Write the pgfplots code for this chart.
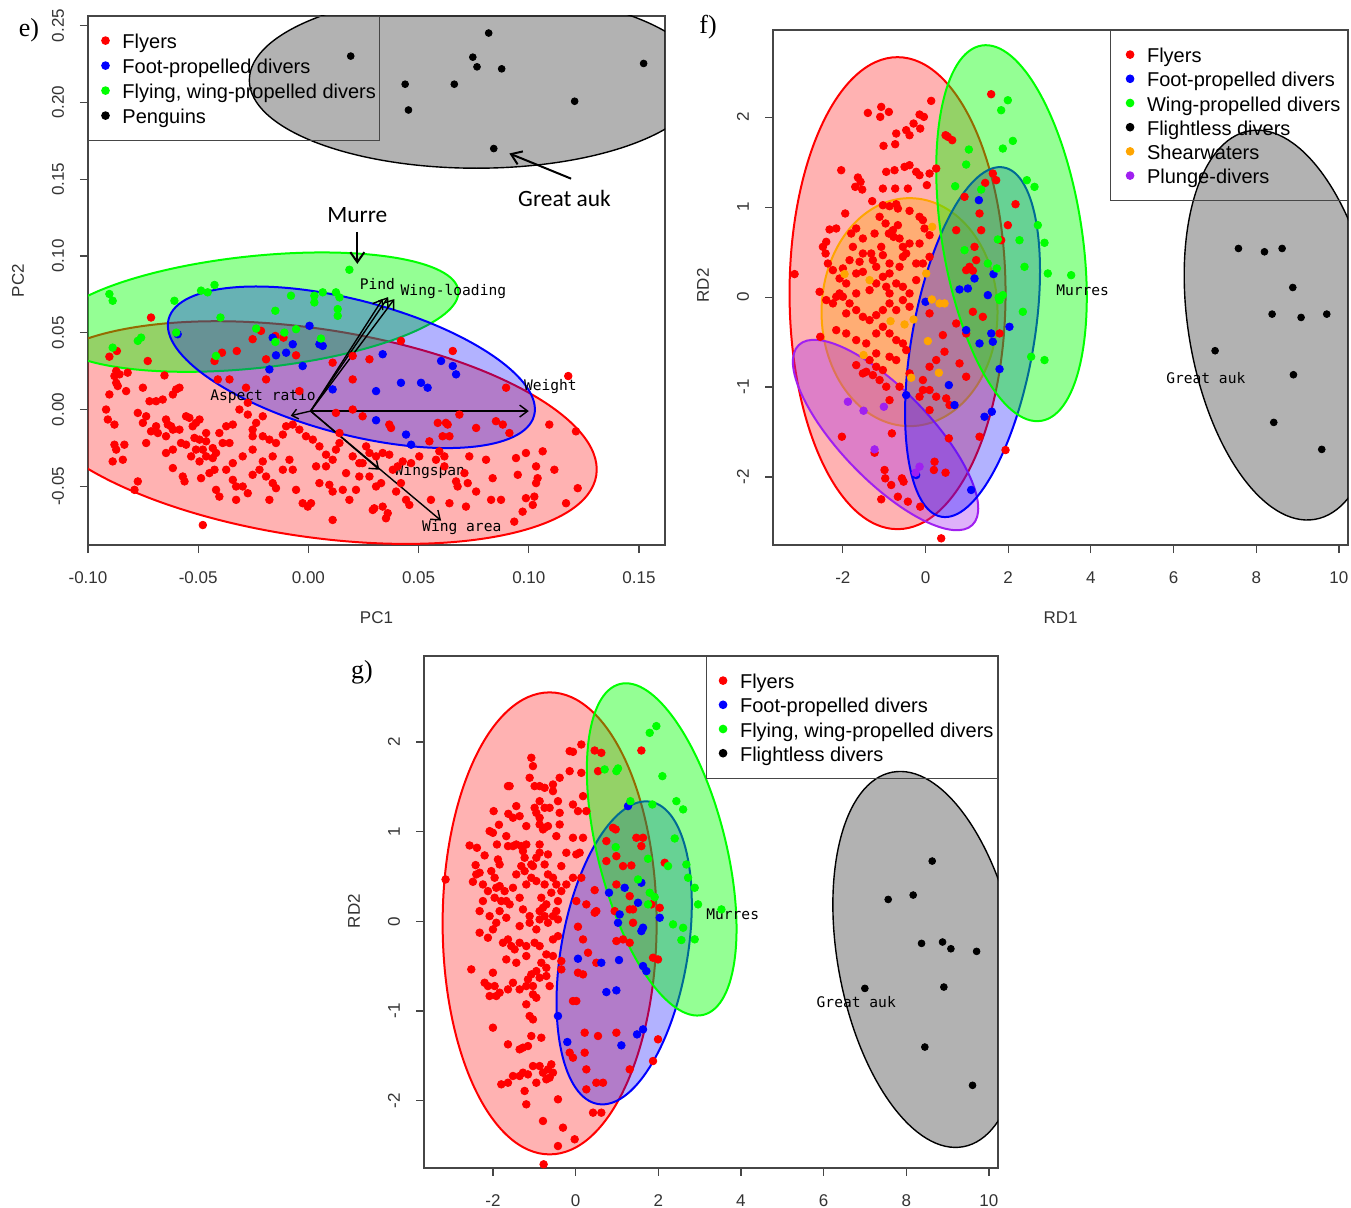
\documentclass[border=0pt]{standalone}
\usepackage{fontspec}
\setmainfont{Liberation Sans}
\newfontfamily\calib{Carlito}
\newfontfamily\monof{DejaVu Sans Mono}
\newfontfamily\serifp{Liberation Serif}
\usepackage{pgfplots}
\pgfplotsset{compat=1.18}
\usetikzlibrary{arrows.meta}
\definecolor{Rgreen}{RGB}{0,255,0}
\definecolor{Rorange}{RGB}{255,165,0}
\definecolor{Rpurple}{RGB}{160,32,240}
\definecolor{axgray}{RGB}{70,70,70}
\pgfplotsset{
  Rax/.style={
    scale only axis, anchor=north west, clip=true,
    axis line style={draw=axgray, line width=0.6pt},
    tick align=outside, xtick pos=bottom, ytick pos=left,
    major tick length=4pt,
    tick style={draw=axgray, line width=0.6pt},
    tick label style={font=\fontsize{8.5}{10}\selectfont, text=black!80},
    xticklabel style={anchor=center, yshift=-12.5pt},
    yticklabel style={anchor=center, xshift=-11pt, rotate=90},
    every axis x label/.style={at={(axis description cs:0.5,0)}, anchor=center, yshift=-36.5pt, font=\fontsize{8.5}{10}\selectfont, text=black!80},
    every axis y label/.style={at={(axis description cs:0,0.5)}, anchor=center, xshift=-35pt, rotate=90, font=\fontsize{8.5}{10}\selectfont, text=black!80},
    legend cell align=left,
    legend image code/.code={\fill[##1] (6.5pt,0.2pt) circle (1.9pt); \path[draw=none,fill=none] (0pt,0pt) -- (15pt,0pt);},
    legend style={draw=axgray, line width=0.5pt, fill=none, font=\fontsize{10}{12}\selectfont, inner xsep=2pt, inner ysep=6.5pt, row sep=0.6pt, nodes={inner sep=0pt, text height=9.6pt, text depth=1.9pt}},
  },
  pts/.style={only marks, mark=*, mark size=1.9pt},
}
\newcommand\Rell[7]{\filldraw[draw=#1, fill=#1, fill opacity=#7, line width=1pt, rotate around={#6:(axis cs:#2,#3)}] (axis cs:#2,#3) ellipse [x radius=#4pt, y radius=#5pt];}
\newcommand\Gell[6]{\filldraw[draw=black, fill=black, fill opacity=0.3, line width=0.7pt, rotate around={#5:(axis cs:#1,#2)}] (axis cs:#1,#2) ellipse [x radius=#3pt, y radius=#4pt];}
\begin{document}
\begin{tikzpicture}
\path[use as bounding box] (0,0) rectangle (675.5pt,-604pt);
\node[font=\serifp\fontsize{13}{14}\selectfont] at (14.5pt,-15pt) {e)};
\node[font=\serifp\fontsize{13}{14}\selectfont] at (354pt,-13.5pt) {f)};
\node[font=\serifp\fontsize{13}{14}\selectfont] at (181pt,-336pt) {g)};

% ---------------- panel e ----------------
\begin{axis}[Rax, at={(44pt,-8pt)}, width=288.5pt, height=264.5pt,
  xmin=-0.1, xmax=0.1618, ymin=-0.0882, ymax=0.2562,
  xtick={-0.1,-0.05,0,0.05,0.1,0.15}, xticklabels={-0.10,-0.05,0.00,0.05,0.10,0.15},
  ytick={-0.05,0,0.05,0.1,0.15,0.2,0.25}, yticklabels={-0.05,0.00,0.05,0.10,0.15,0.20,0.25},
  xlabel={PC1}, ylabel={PC2},
  legend style={at={(0,1)}, anchor=north west, row sep=1pt}]
\addplot[red, pts] coordinates {
(-0.0903,0.0344)(-0.0869,0.0381)(-0.0714,0.0599)(-0.0729,0.0316)(-0.0426,0.0316)(-0.0392,0.0370)(-0.0325,0.0381)(-0.0253,0.0458)(-0.0215,0.0512)(-0.0192,0.0327)(-0.0150,0.0479)(-0.0113,0.0468)(-0.0056,0.0353)(-0.0872,0.0251)(-0.0880,0.0218)(-0.0857,0.0229)(-0.0820,0.0240)(-0.0872,0.0174)(-0.0865,0.0153)(-0.0903,0.0098)(-0.0918,0.0)(-0.0910,-0.0065)(-0.0880,-0.0098)(-0.0827,0.0120)(-0.0751,0.0142)(-0.0774,-0.0022)(-0.0736,-0.0044)(-0.0721,0.0054)(-0.0691,0.0054)(-0.0661,0.0065)(-0.0653,0.0222)(-0.0615,0.0098)(-0.0600,0.0131)(-0.0585,0.0142)(-0.0691,-0.0109)(-0.0683,-0.0153)(-0.0646,-0.0065)(-0.0638,-0.0098)(-0.0623,-0.0109)(-0.0615,-0.0131)(-0.0585,-0.0131)(-0.0578,-0.0218)(-0.0555,-0.0229)(-0.0540,-0.0054)(-0.0510,-0.0087)(-0.0494,-0.0065)(-0.0517,-0.0185)(-0.0494,-0.0196)(-0.0464,-0.0207)(-0.0434,-0.0251)(-0.0419,-0.0283)(-0.0389,-0.0218)(-0.0358,-0.0218)(-0.0343,-0.0098)(-0.0313,0.0)(-0.0275,-0.0033)(-0.0275,0.0044)(-0.0253,-0.0131)(-0.0237,-0.0087)(-0.0207,-0.0044)(-0.0207,-0.0174)(-0.0177,-0.0196)(-0.0147,-0.0218)(-0.0116,-0.0163)(-0.0101,-0.0109)(-0.0071,-0.0098)(-0.0041,-0.0131)(-0.0011,-0.0174)(0.0020,-0.0196)(0.0050,-0.0240)(0.0080,-0.0294)(0.0110,-0.0327)(-0.0880,-0.0229)(-0.0835,-0.0229)(-0.0872,-0.0261)(-0.0842,-0.0327)(-0.0888,-0.0338)(-0.0774,-0.0468)(-0.0789,-0.0523)(-0.0736,-0.0218)(-0.0646,-0.0283)(-0.0615,-0.0381)(-0.0570,-0.0436)(-0.0562,-0.0468)(-0.0532,-0.0305)(-0.0494,-0.0338)(-0.0479,-0.0261)(-0.0449,-0.0414)(-0.0426,-0.0392)(-0.0487,-0.0447)(-0.0419,-0.0523)(-0.0404,-0.0567)(-0.0343,-0.0458)(-0.0328,-0.0501)(-0.0298,-0.0501)(-0.0328,-0.0588)(-0.0275,-0.0545)(-0.0253,-0.0425)(-0.0222,-0.0392)(-0.0192,-0.0436)(-0.0162,-0.0479)(-0.0147,-0.0512)(-0.0177,-0.0588)(-0.0116,-0.0392)(-0.0086,-0.0327)(-0.0071,-0.0392)(-0.0056,-0.0523)(-0.0026,-0.0610)(-0.0003,-0.0632)(0.0012,-0.0610)(0.0050,-0.0479)(0.0095,-0.0490)(0.0110,-0.0534)(0.0110,-0.0719)(0.0156,-0.0523)(0.0186,-0.0588)(0.0216,-0.0523)(0.0231,-0.0436)(0.0277,-0.0283)(0.0292,-0.0654)(0.0307,-0.0501)(-0.0479,-0.0752)(-0.0464,-0.0305)(-0.0434,-0.0316)(-0.0373,-0.0392)(-0.0343,-0.0349)(-0.0615,-0.0261)(-0.0646,-0.0174)(-0.0714,-0.0142)(-0.0751,-0.0087)(-0.0555,-0.0044)(-0.0525,-0.0109)(-0.0464,-0.0153)(-0.0404,-0.0153)(-0.0373,-0.0109)(-0.0510,-0.0261)(-0.0298,-0.0305)(-0.0253,-0.0261)(-0.0207,-0.0338)(-0.0162,-0.0305)(-0.0253,-0.0174)(0.0201,-0.0305)(0.0246,-0.0349)(0.0262,-0.0240)(0.0125,-0.0261)(0.0141,-0.0218)(0.0080,-0.0370)(0.0035,-0.0370)(0.0171,-0.0414)(0.0231,-0.0349)
(-0.0411,0.0196)(-0.0358,0.0196)(-0.0283,0.0142)(-0.0192,0.0196)(-0.0041,0.0120)(0.0125,-0.0022)(0.0201,0.0)(0.0246,-0.0044)(0.0141,-0.0153)(0.0201,0.0196)(0.0110,0.0305)(0.0201,0.0349)
(0.1179,0.0218)(0.1093,-0.0098)(0.1214,-0.0142)(0.1063,-0.0272)(0.1116,-0.0392)(0.1033,-0.0370)(0.0987,-0.0283)(0.0942,-0.0316)(0.0950,-0.0425)(0.0806,-0.0327)(0.0836,-0.0447)(0.0730,-0.0305)(0.0708,-0.0414)(0.0670,-0.0468)(0.0677,-0.0501)(0.0723,-0.0479)(0.0761,-0.0534)(0.0715,-0.0632)(0.0829,-0.0588)(0.0874,-0.0588)(0.0987,-0.0577)(0.1025,-0.0567)(0.1018,-0.0621)(0.1040,-0.0447)(0.1033,-0.0479)(0.1169,-0.0610)(0.1222,-0.0512)(0.0934,-0.0730)(0.0972,-0.0665)(0.0594,-0.0272)(0.0617,-0.0305)(0.0617,-0.0370)(0.0579,-0.0327)(0.0503,-0.0305)(0.0466,-0.0349)(0.0428,-0.0338)(0.0405,-0.0370)(0.0367,-0.0294)(0.0337,-0.0283)(0.0383,-0.0392)(0.0420,-0.0479)(0.0398,-0.0534)(0.0443,-0.0588)(0.0458,-0.0621)(0.0556,-0.0588)(0.0640,-0.0610)(0.0299,-0.0643)(0.0337,-0.0632)(0.0360,-0.0675)(0.0352,-0.0708)(0.0330,-0.0479)(0.0307,-0.0305)(0.0277,-0.0436)
(0.0655,0.0381)(0.0897,0.0142)(0.0882,-0.0098)(0.0851,-0.0076)(0.0761,-0.0120)(0.0685,-0.0033)(0.0624,-0.0087)(0.0632,-0.0098)(0.0640,-0.0174)(0.0609,-0.0174)(0.0587,-0.0087)(0.0549,-0.0207)(0.0367,-0.0098)(0.0375,-0.0120)(0.0420,0.0447)(0.0277,0.0327)(0.0912,-0.0153)
};
\addlegendentry{Flyers}
\addplot[blue, pts] coordinates {
(-0.0593,0.0490)(-0.0162,0.0468)(-0.0147,0.0353)(-0.0101,0.0370)(-0.0071,0.0425)(0.0005,0.0545)(0.0050,0.0425)(-0.0177,0.0261)(-0.0026,0.0283)(0.0110,0.0131)(0.0307,0.0120)(0.0307,-0.0070)(0.0065,0.0414)(0.0337,0.0360)(0.0602,0.0316)(0.0655,0.0283)(0.0670,0.0229)(0.0420,0.0174)(0.0511,0.0174)(0.0541,0.0142)(0.0443,-0.0163)(0.0466,-0.0229)
};
\addlegendentry{Foot-propelled divers}
\addplot[Rgreen, pts] coordinates {
(-0.0903,0.0752)(-0.0888,0.0708)(-0.0608,0.0708)(-0.0487,0.0774)(-0.0457,0.0763)(-0.0426,0.0811)(-0.0399,0.0599)(-0.0600,0.0501)(-0.0888,0.0403)(-0.0774,0.0447)(-0.0759,0.0468)(-0.0419,0.0349)(-0.0237,0.0527)(-0.0150,0.0643)(-0.0109,0.0501)(-0.0150,0.0440)(-0.0056,0.0523)(-0.0079,0.0741)(0.0027,0.0741)(0.0027,0.0697)(0.0065,0.0763)(0.0125,0.0763)(0.0141,0.0730)(0.0133,0.0654)(0.0133,0.0610)(0.0057,0.0462)(0.0186,0.0910)
};
\addlegendentry{Flying, wing-propelled divers}
\addplot[black, pts, mark size=1.7pt] coordinates {
(0.0818,0.2451)(0.0746,0.2294)(0.0765,0.2231)(0.0877,0.2218)(0.0439,0.2118)(0.0662,0.2118)(0.0454,0.1950)(0.1208,0.2007)(0.1521,0.2253)(0.0841,0.1699)(0.0192,0.2301)
};
\addlegendentry{Penguins}
\Rell{red}{0.0014}{-0.0150}{144}{52}{-8.5}{0.3}
\Rell{Rgreen}{-0.0245}{0.0634}{102.5}{28}{6}{0.42}
\Rell{blue}{0.0195}{0.0275}{94.5}{33.5}{-14.8}{0.3}
\Gell{0.0762}{0.2144}{113.5}{44}{0}{}
% biplot arrows
\draw[black, line width=0.7pt, -{Straight Barb[length=4pt,width=6pt]}] (axis cs:0.001,-0.001) -- (axis cs:0.100,-0.001);
\draw[black, line width=0.7pt, -{Straight Barb[length=4pt,width=6pt]}] (axis cs:0.001,-0.001) -- (axis cs:0.0337,0.0719);
\draw[black, line width=0.7pt, -{Straight Barb[length=4pt,width=6pt]}] (axis cs:0.001,-0.001) -- (axis cs:0.0362,0.0732);
\draw[black, line width=0.7pt, -{Straight Barb[length=4pt,width=6pt]}] (axis cs:0.001,-0.001) -- (axis cs:0.0390,0.0719);
\draw[black, line width=0.7pt, -{Straight Barb[length=3pt,width=5pt]}] (axis cs:0.001,-0.001) -- (axis cs:-0.008,-0.0040);
\draw[black, line width=0.7pt, -{Straight Barb[length=4pt,width=6pt]}] (axis cs:0.001,-0.001) -- (axis cs:0.0322,-0.0392);
\draw[black, line width=0.7pt, -{Straight Barb[length=4pt,width=6pt]}] (axis cs:0.001,-0.001) -- (axis cs:0.0602,-0.0723);
\node[font=\monof\fontsize{7.3}{8}\selectfont] at (axis cs:0.0313,0.0817) {Pind};
\node[font=\monof\fontsize{7.3}{8}\selectfont] at (axis cs:0.0658,0.0767) {Wing-loading};
\node[font=\monof\fontsize{7.3}{8}\selectfont] at (axis cs:0.1098,0.0150) {Weight};
\node[font=\monof\fontsize{7.3}{8}\selectfont] at (axis cs:-0.0206,0.0087) {Aspect ratio};
\node[font=\monof\fontsize{7.3}{8}\selectfont] at (axis cs:0.0551,-0.0405) {Wingspan};
\node[font=\monof\fontsize{7.3}{8}\selectfont] at (axis cs:0.0696,-0.0771) {Wing area};
\node[font=\calib\fontsize{11.7}{13}\selectfont] at (axis cs:0.0222,0.1268) {Murre};
\draw[black, line width=1pt, -{Straight Barb[length=5pt,width=7pt]}] (axis cs:0.0222,0.1157) -- (axis cs:0.0222,0.0948);
\node[font=\calib\fontsize{11.7}{13}\selectfont] at (axis cs:0.1162,0.1373) {Great auk};
\draw[black, line width=1pt, -{Straight Barb[length=5pt,width=7pt]}] (axis cs:0.1192,0.1503) -- (axis cs:0.0912,0.1667);
\end{axis}

% ---------------- panel f ----------------
\begin{axis}[Rax, at={(386.5pt,-15pt)}, width=287.5pt, height=257.5pt,
  xmin=-3.69, xmax=10.22, ymin=-2.756, ymax=2.97,
  xtick={-2,0,2,4,6,8,10}, xticklabels={-2,0,2,4,6,8,10},
  ytick={-2,-1,0,1,2}, yticklabels={-2,-1,0,1,2},
  xlabel={RD1}, ylabel={RD2},
  every axis y label/.append style={xshift=1pt},
  legend style={at={(1,1)}, anchor=north east, inner xsep=3.5pt}]
\addplot[red, pts] coordinates {
(-1.395,2.048)(-1.072,2.115)(-1.096,2.004)(-0.887,2.059)(-0.145,2.030)(-0.040,2.004)(0.137,2.182)(-0.290,1.930)(-0.709,1.819)(-0.468,1.856)(-0.387,1.800)(-0.129,1.874)(-1.016,1.682)(-0.734,1.700)(-0.951,1.393)(-0.750,1.411)(-0.508,1.448)(-0.387,1.467)(-0.145,1.356)(-0.226,1.393)(0.097,1.374)(0.258,1.430)(0.032,1.245)(0.484,1.800)(0.540,1.782)(0.645,1.745)(-2.040,1.411)(-1.636,1.330)(-1.572,1.282)(-1.701,1.226)(-1.532,1.196)(-1.290,1.067)(-1.032,1.207)(-0.734,1.207)(-0.427,1.207)(-1.943,0.930)(-2.322,0.752)(-2.160,0.763)(-2.402,0.615)(-2.483,0.559)(-2.418,0.485)(-2.362,0.374)(-2.563,0.059)(-3.168,0.256)(1.628,1.374)(1.709,1.300)(1.443,1.270)(1.588,2.256)(2.177,1.033)(1.991,0.800)(1.346,0.744)(1.306,0.930)(0.943,1.115)(0.742,0.744)(1.185,0.559)(1.064,0.337)(0.983,0.300)(1.145,0.293)(1.225,0.411)(1.830,0.633)
(-1.032,1.022)(-0.871,1.011)(-0.709,1.033)(-0.669,0.985)(-0.387,0.959)(-0.145,0.893)(-0.064,0.856)(-0.024,0.763)(0.097,0.689)(-1.112,0.893)(-0.967,0.819)(-0.669,0.800)(-0.790,0.744)(-0.887,0.707)(-0.774,0.670)(-0.629,0.652)(-0.548,0.559)(-0.387,0.596)(-0.145,0.596)(-1.233,0.707)(-1.516,0.652)(-1.677,0.763)(-1.798,0.707)(-1.757,0.559)(-1.516,0.485)(-1.314,0.485)(-1.072,0.559)(-1.032,0.467)(-1.274,0.411)(-1.596,0.393)(-1.838,0.411)(-1.999,0.319)(-2.241,0.300)(-2.080,0.207)(-1.919,0.152)(-1.677,0.263)(-1.516,0.281)(-1.193,0.337)(-0.871,0.374)(-0.629,0.337)(-0.548,0.448)(-0.468,0.485)(-0.226,0.374)(-0.064,0.374)(0.097,0.448)(-0.871,0.263)(-1.032,0.226)(-1.193,0.152)(-1.354,0.078)(-0.951,0.115)(-0.709,0.152)(-0.548,0.115)(-0.387,0.041)(-0.226,0.189)(-0.871,0.041)(-1.677,0.041)(-2.080,0.041)(-2.160,0.004)
(-2.402,-0.033)(-2.241,-0.070)(-1.999,0.004)(-1.838,-0.070)(-1.677,-0.144)(-1.919,-0.181)(-1.516,-0.219)(-1.354,-0.256)(-1.193,-0.200)(-1.032,-0.144)(-0.871,-0.070)(-0.709,-0.144)(-0.548,-0.033)(-0.387,-0.107)(-2.160,-0.367)(-1.919,-0.404)(-1.677,-0.478)(-1.435,-0.515)(-1.193,-0.404)(-1.032,-0.330)(-0.871,-0.404)(-0.709,-0.478)(-0.548,-0.515)(-0.468,-0.589)(-1.193,-0.626)(-1.354,-0.700)(-1.193,-0.774)(-1.032,-0.811)(-0.871,-0.663)(-0.709,-0.700)(-1.677,-0.756)(-1.516,-0.848)(-1.274,-0.867)(-1.112,-0.922)(-0.951,-0.996)(-0.629,-0.996)(-0.387,-0.848)(-0.064,-0.922)(0.097,-0.774)(0.258,-0.700)(0.459,-0.607)(-0.064,-1.033)(-0.145,-1.107)(0.097,-1.033)(0.258,-1.107)(0.500,-1.126)(0.580,-1.200)(0.419,-0.422)(0.983,-0.404)(1.790,-0.404)(1.145,-0.163)(1.386,-0.219)(0.097,-0.181)(0.742,-0.293)(0.822,-0.737)(0.983,-0.885)(1.306,-1.552)(-2.547,-0.441)(-0.814,-1.515)(-2.023,-1.552)(-1.233,-1.730)(-0.992,-1.922)(-0.975,-2.015)(-0.830,-2.089)(-0.572,-2.015)(-0.532,-2.052)(-0.669,-2.219)(-0.427,-2.274)(-0.129,-2.330)(-1.072,-2.248)(0.218,-1.830)(0.202,-1.922)(0.484,-1.952)(0.564,-1.570)(1.935,-1.700)(0.097,-1.256)(-0.871,-1.145)(-1.435,-0.830)(0.379,-2.682)
};
\addlegendentry{Flyers}
\addplot[blue, pts] coordinates {
(1.29,1.078)(1.644,0.256)(1.185,0.207)(1.024,0.096)(0.822,0.085)(1.507,0.022)(0,-0.052)(2.03,-0.33)(0.983,-0.367)(1.306,-0.515)(1.628,-0.496)(1.59,-0.404)(1.79,-0.8)(0.564,-0.978)(0.701,-1.2)(1.427,-1.33)(1.604,-1.274)(1.104,-2.144)(-0.226,-1.978)(-0.468,-1.089)
};
\addlegendentry{Foot-propelled divers}
\addplot[Rgreen, pts] coordinates {
(1.991,2.189)(1.830,2.078)(2.112,1.737)(1.870,1.652)(1.048,1.641)(0.983,1.474)(0.717,1.233)(1.346,1.196)(2.451,1.30)(2.636,1.226)(2.717,0.80)(2.878,0.604)(2.394,0.337)(2.958,0.263)(3.523,0.244)(2.273,0.633)(1.749,0.641)(1.725,0.319)(1.507,0.374)(0.943,0.522)(1.87,0.022)(1.77,-0.004)(2.354,-0.163)(1.79,-0.033)(2.555,-0.663)(2.878,-0.70)
};
\addlegendentry{Wing-propelled divers}
\addplot[black, pts, mark size=1.7pt] coordinates {
(7.57,0.541)(8.199,0.504)(8.626,0.541)(8.884,0.107)(8.384,-0.189)(9.085,-0.226)(9.706,-0.189)(7.005,-0.596)(8.90,-0.863)(8.424,-1.393)(9.585,-1.693)
};
\addlegendentry{Flightless divers}
\addplot[Rorange, pts] coordinates {
(-1.959,0.256)(-1.354,0.189)(0.161,0.781)(0.016,0.263)(0.153,-0.026)(0.339,-0.07)(0.46,-0.07)(-0.846,-0.267)(-0.508,-0.304)(-0.29,-0.248)(-1.5,-0.644)(0.056,-0.489)(0.322,-0.841)(-0.347,-0.896)
};
\addlegendentry{Shearwaters}
\addplot[Rpurple, pts] coordinates {
(-1.878,-1.163)(-1.5,-1.263)(-1.008,-1.219)(-1.233,-1.693)(-0.145,-1.885)(-0.242,-1.952)
};
\addlegendentry{Plunge-divers}
\Rell{red}{-0.677}{0.044}{54}{118}{0}{0.3}
\Rell{Rorange}{-0.387}{-0.167}{44}{57}{0}{0.35}
\Rell{Rpurple}{-0.967}{-1.533}{62.5}{22.5}{-46}{0.35}
\Rell{blue}{1.137}{-0.5}{30.4}{88.7}{-10.1}{0.3}
\Rell{Rgreen}{2.08}{0.711}{35}{95}{9}{0.42}
\Gell{8.63}{-0.311}{46.9}{98.5}{9.5}{}
\node[font=\monof\fontsize{7.3}{8}\selectfont] at (axis cs:3.80,0.078) {Murres};
\node[font=\monof\fontsize{7.3}{8}\selectfont] at (axis cs:6.78,-0.903) {Great auk};
\end{axis}

% ---------------- panel g ----------------
\begin{axis}[Rax, at={(212pt,-328pt)}, width=287pt, height=256pt,
  xmin=-3.67, xmax=10.22, ymin=-2.75, ymax=2.96,
  xtick={-2,0,2,4,6,8,10}, xticklabels={-2,0,2,4,6,8,10},
  ytick={-2,-1,0,1,2}, yticklabels={-2,-1,0,1,2},
  ylabel={RD2},
  every axis y label/.append style={xshift=0.5pt},
  legend style={at={(1,1)}, anchor=north east}]
\addplot[red, pts] coordinates {
(-3.148,0.468)(-2.567,0.847)(-2.389,0.821)(-2.203,0.736)(-2.421,0.628)(-2.405,0.524)(-2.324,0.543)(-2.486,0.442)(-2.042,0.561)(-1.985,1.230)(-1.856,1.078)(-1.630,1.200)(-1.598,1.509)(-1.437,1.286)(-1.356,1.174)(-2.082,1.007)(-2.002,0.988)(-1.905,0.858)(-1.679,0.951)(-1.638,0.840)(-1.517,0.840)(-1.437,0.858)(-1.316,0.840)(-1.275,0.784)(-1.235,0.710)(-1.195,0.858)(-1.881,0.691)(-1.840,0.635)(-1.961,0.487)(-1.921,0.375)(-1.840,0.394)(-1.719,0.338)(-1.679,0.227)(-1.598,0.190)(-1.517,0.375)(-1.356,0.264)(-1.195,0.412)(-1.073,0.635)(-1.033,0.617)(-0.952,0.710)(-0.872,0.858)(-0.751,0.635)(-0.670,0.524)(-0.589,0.320)(-0.428,0.227)(-0.347,0.338)(-0.347,0.617)(-0.226,0.412)(-0.065,0.487)(0.016,0.747)(0.097,0.766)(-0.226,0.766)(0.178,0.933)(-0.065,0.933)(-0.387,1.081)(-0.468,0.951)(-0.751,1.044)(-0.872,1.156)(-0.952,1.211)(-0.993,1.267)(-0.872,1.341)(-0.751,1.267)(-0.630,1.267)(-0.549,1.527)(-0.387,1.602)(-0.145,1.676)(0.137,1.657)(-0.145,1.899)(-0.065,1.891)(0.137,1.973)(-0.549,1.453)(-0.428,1.341)(-0.387,1.211)(-0.065,1.304)(0.056,1.230)(0.258,1.230)(0.178,1.397)(-1.073,1.825)(-1.033,1.732)(-1.114,1.602)(-0.993,1.509)(-0.872,1.509)(-0.751,1.490)(-0.872,1.081)(-0.791,1.026)(-0.670,1.063)(-1.638,1.509)(-1.517,1.156)(-1.195,1.063)(-0.872,0.766)(-0.670,0.747)(-1.316,0.617)(-1.235,0.561)(-1.437,0.524)(-2.244,0.412)(-2.123,0.338)(-1.800,0.227)(-1.961,0.264)(-2.244,0.227)(-2.324,0.115)(-1.840,0.115)(-1.679,0.041)(-1.275,0.134)(-1.114,0.059)(-0.872,0.115)(-0.791,0.152)(-0.710,0.190)(-0.468,0.115)(-0.831,0.264)(-0.952,0.450)(-1.073,0.487)(-0.549,0.487)(-0.468,0.412)(-0.751,0.412)
(0.460,1.906)(0.621,1.880)(0.541,1.676)(1.590,1.906)(0.969,1.026)(1.469,0.933)(1.590,0.840)(1.630,0.933)(0.743,0.896)(0.985,0.728)(0.743,0.673)(1.146,0.617)(1.348,0.624)(0.985,0.412)(1.308,0.282)(1.388,0.134)(1.832,0.190)(2.034,0.152)(2.155,0.654)(0.904,1.044)
(0.137,0.487)(0.460,0.349)(0.016,0.227)(0.258,0.190)(0.500,0.115)(0.944,0.115)
(-2.526,-0.535)(-2.324,-0.126)(-2.123,-0.182)(-2.002,-0.572)(-2.203,-0.684)(-2.123,-0.721)(-1.961,-0.721)(-2.082,-0.832)(-1.921,-0.832)(-1.840,-0.795)(-2.002,-1.185)(-1.638,-0.758)(-1.759,-0.238)(-1.638,-0.201)(-1.558,-0.275)(-1.477,-0.312)(-1.356,-0.238)(-1.195,-0.275)(-0.993,-0.238)(-0.872,-0.275)(-0.710,-0.368)(-0.549,-0.386)(-0.831,-0.461)(-0.710,-0.517)(-0.952,-0.554)(-1.073,-0.591)(-1.154,-0.647)(-1.517,-0.684)(-1.356,-0.758)(-1.195,-0.721)(-1.033,-0.721)(-0.872,-0.628)(-0.710,-0.609)(-0.630,-0.721)(-1.033,-0.814)(-0.952,-0.851)(-1.114,-1.055)(-1.033,-1.093)(-1.195,-0.925)(-1.073,-1.278)(-0.831,-1.297)(-1.356,-1.427)(-1.275,-1.408)(-1.154,-1.390)(-1.638,-1.371)(-1.638,-1.799)(-1.517,-1.724)(-1.356,-1.724)(-1.275,-1.687)(-1.154,-1.706)(-1.033,-1.613)(-0.872,-1.613)(-0.791,-1.687)(-0.670,-1.650)(-0.630,-1.743)(-0.589,-1.594)(-0.549,-1.687)(-0.710,-1.761)(-1.235,-1.891)(-0.952,-1.799)(-1.800,-1.817)(-1.195,-2.040)(-0.791,-2.226)(-0.428,-1.984)(-0.307,-2.300)(-0.428,-2.505)(-0.024,-2.430)(-0.775,-2.709)(-2.082,0.059)(-1.921,-0.015)(-2.002,-0.089)(-1.356,-0.052)(-1.114,-0.015)(-0.952,-0.089)(-0.872,0.022)(-0.751,0.059)(-0.670,-0.015)(-0.549,0.059)(-1.195,-0.386)(-1.679,-0.424)(-1.437,-0.461)(-0.549,-0.201)(-0.428,-0.164)(-0.428,0.022)
(0.056,-0.059)(0.178,-0.201)(0.460,0.097)(0.985,-0.219)(1.146,-0.201)(1.308,-0.238)(0.299,-0.349)(0.500,-0.461)(0.056,-0.572)(0.178,-0.591)(-0.347,-0.442)(-0.347,-0.535)(-0.065,-0.888)(0.016,-0.888)(0.218,-1.241)(0.541,-1.278)(0.985,-1.241)(-0.145,-1.464)(-0.065,-1.520)(0.218,-1.464)(0.258,-1.650)(0.500,-1.799)(0.662,-1.799)(0.258,-1.873)(1.308,-1.650)(1.993,-1.315)(1.872,-1.557)(0.420,-2.133)(0.621,-2.133)
(1.308,0.134)(1.388,-0.015)(1.872,-0.405)(1.993,-0.424)
};
\addlegendentry{Flyers}
\addplot[blue, pts] coordinates {
(1.267,1.286)(1.186,0.375)(0.807,0.32)(1.59,0.431)(1.509,0.208)(1.065,0.078)(1.025,-0.015)(1.63,-0.07)(1.59,-0.108)(2.034,0.041)(0.056,-0.416)(0.621,-0.461)(1.049,-0.431)(1.63,-0.498)(1.711,-0.554)(0.743,-0.788)(0.985,-0.769)(-0.428,-1.055)(-0.202,-1.345)(1.106,-1.382)(1.485,-1.26)(1.63,-1.204)
};
\addlegendentry{Foot-propelled divers}
\addplot[Rgreen, pts] coordinates {
(0.702,1.695)(0.985,1.676)(1.025,1.706)(1.792,2.103)(1.953,2.178)(2.099,1.62)(1.324,1.341)(1.856,1.304)(2.437,1.341)(2.6,1.249)(0.969,0.829)(2.397,0.925)(1.751,0.699)(2.236,0.617)(1.509,0.468)(1.792,0.32)(1.913,0.271)(1.751,0.19)(2.679,0.635)(2.72,0.487)(2.881,0.375)(2.962,0.19)(3.527,0.134)(2.357,-0.033)(2.6,-0.071)(2.558,-0.208)(2.881,-0.2)
};
\addlegendentry{Flying, wing-propelled divers}
\addplot[black, pts, mark size=1.7pt] coordinates {
(8.628,0.673)(8.168,0.294)(7.563,0.245)(8.370,-0.245)(8.878,-0.23)(9.08,-0.305)(9.702,-0.334)(6.998,-0.747)(8.91,-0.732)(8.45,-1.401)(9.604,-1.828)
};
\addlegendentry{Flightless divers}
\Rell{red}{-0.63}{-0.022}{53.5}{115.5}{0}{0.3}
\Rell{blue}{1.174}{-0.351}{31.6}{76.7}{-9.9}{0.3}
\Rell{Rgreen}{2.082}{0.803}{32}{85.3}{14.2}{0.42}
\Gell{8.523}{-0.424}{44.8}{95.3}{10.8}{}
\node[font=\monof\fontsize{7.3}{8}\selectfont] at (axis cs:3.80,0.078) {Murres};
\node[font=\monof\fontsize{7.3}{8}\selectfont] at (axis cs:6.79,-0.90) {Great auk};
\end{axis}
\end{tikzpicture}
\end{document}
